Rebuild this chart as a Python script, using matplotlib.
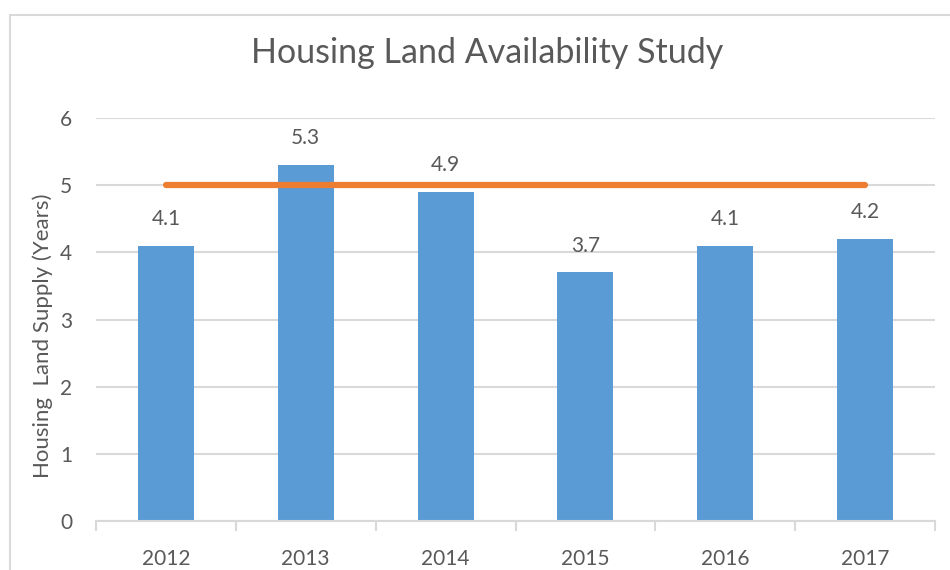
import matplotlib.pyplot as plt
from matplotlib.patches import Rectangle

years = ["2012", "2013", "2014", "2015", "2016", "2017"]
supply = [4.1, 5.3, 4.9, 3.7, 4.1, 4.2]
target = [5, 5, 5, 5, 5, 5]

TEXT = "#595959"
BAR = "#5B9BD5"
LINE = "#ED7D31"
GRID = "#D9D9D9"

plt.rcParams["font.family"] = ["Lato", "DejaVu Sans"]

fig = plt.figure(figsize=(9.5, 5.7), dpi=100)
ax = fig.add_axes([96 / 950, 1 - 521 / 570, (935 - 96) / 950, (521 - 118) / 570])

# chart frame (runs off the right and bottom edges like the screenshot)
fig.patches.append(Rectangle((10 / 950, -0.1), 1.1, 1 - 15 / 570 + 0.1,
                             transform=fig.transFigure, fill=False,
                             edgecolor=GRID, linewidth=1.5))

x = list(range(len(years)))
ax.bar(x, supply, width=0.4, color=BAR, zorder=2)
ax.plot(x, target, color=LINE, linewidth=4.5, solid_capstyle="round", zorder=3)

for xi, v in zip(x, supply):
    ax.text(xi, v + 0.4, f"{v:.1f}", ha="center", va="center", fontsize=15, color=TEXT)

ax.set_xlim(-0.5, len(years) - 0.5)
ax.set_ylim(0, 6)
ax.set_yticks(range(0, 7))
ax.yaxis.grid(True, color=GRID, linewidth=1.5, zorder=0)
ax.set_axisbelow(True)

ax.set_xticks(x)
ax.set_xticklabels(years)
ax.set_xticks([i - 0.5 for i in range(len(years) + 1)], minor=True)
ax.tick_params(axis="x", which="major", length=0, pad=20, labelsize=15, labelcolor=TEXT)
ax.tick_params(axis="x", which="minor", length=7, width=1.5, color=GRID, direction="out")
ax.tick_params(axis="y", length=0, pad=17, labelsize=15, labelcolor=TEXT)

for s in ["top", "right", "left"]:
    ax.spines[s].set_visible(False)
ax.spines["bottom"].set_color(GRID)
ax.spines["bottom"].set_linewidth(1.5)

ax.set_ylabel("Housing  Land Supply (Years)", fontsize=16, color=TEXT, va="center")
ax.yaxis.set_label_coords(-0.064, 0.46)
fig.text(0.513, 1 - 53 / 570, "Housing Land Availability Study", ha="center", va="center",
         fontsize=24.5, color=TEXT)

fig.savefig("out.png", dpi=100)
